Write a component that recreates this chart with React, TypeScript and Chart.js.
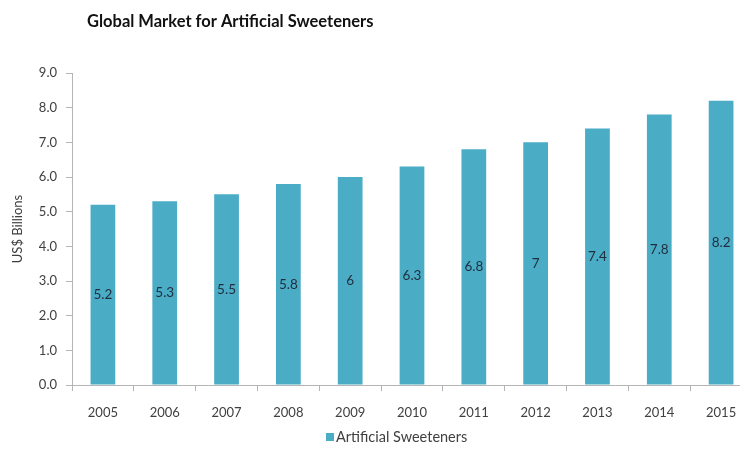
import React, { useEffect, useRef } from "react";
import { Chart, registerables } from "chart.js";

Chart.register(...registerables);

const categories = ["2005", "2006", "2007", "2008", "2009", "2010", "2011", "2012", "2013", "2014", "2015"];
const values = [5.2, 5.3, 5.5, 5.8, 6, 6.3, 6.8, 7, 7.4, 7.8, 8.2];
const valueLabels = ["5.2", "5.3", "5.5", "5.8", "6", "6.3", "6.8", "7", "7.4", "7.8", "8.2"];
const seriesName = "Artificial Sweeteners";
const chartTitle = "Global Market for Artificial Sweeteners";
const yAxisTitle = "US$ Billions";

const FONT = "Lato, 'Open Sans', sans-serif";
const BAR = "#4bacc6";
const TEXT = "#404040";
const AXIS = "#b5b5b5";

const extras = {
  id: "extras",
  afterDatasetsDraw(chart: any) {
    const ctx = chart.ctx;
    const meta = chart.getDatasetMeta(0);
    ctx.save();
    ctx.font = `13.5px ${FONT}`;
    ctx.fillStyle = "#1f2d3d";
    ctx.textAlign = "center";
    ctx.textBaseline = "middle";
    meta.data.forEach((bar: any, i: number) => {
      const mid = (bar.y + bar.base) / 2;
      ctx.fillText(valueLabels[i], bar.x, mid);
    });
    ctx.restore();
  },
  afterDraw(chart: any) {
    const ctx = chart.ctx;
    ctx.save();
    // title
    ctx.font = `bold 16.5px ${FONT}`;
    ctx.fillStyle = "#111111";
    ctx.textAlign = "left";
    ctx.textBaseline = "alphabetic";
    ctx.fillText(chartTitle, 87, 27);
    // legend
    ctx.fillStyle = BAR;
    ctx.fillRect(326, 433, 8, 8);
    ctx.font = `14.5px ${FONT}`;
    ctx.fillStyle = TEXT;
    ctx.textBaseline = "middle";
    ctx.fillText(seriesName, 336, 437);
    ctx.restore();
  },
};

export default function App() {
  const ref = useRef<HTMLCanvasElement | null>(null);
  useEffect(() => {
    if (!ref.current) return;
    const chart = new Chart(ref.current, {
      type: "bar",
      data: {
        labels: categories,
        datasets: [
          {
            label: seriesName,
            data: values,
            backgroundColor: BAR,
            borderWidth: 0,
            barPercentage: 0.4,
            categoryPercentage: 1,
          },
        ],
      },
      options: {
        responsive: false,
        animation: false,
        devicePixelRatio: 1,
        layout: { padding: { top: 73, right: 8, left: 0, bottom: 0 } },
        plugins: {
          legend: { display: false },
          title: { display: false },
          tooltip: { enabled: false },
        },
        scales: {
          x: {
            offset: true,
            grid: {
              offset: true,
              drawOnChartArea: false,
              drawTicks: true,
              tickLength: 6,
              color: AXIS,
            },
            border: { display: true, color: AXIS, width: 1 },
            ticks: {
              color: TEXT,
              font: { family: FONT, size: 13 },
              padding: 14,
              maxRotation: 0,
              autoSkip: false,
            },
            afterFit(scale: any) {
              scale.height = 454 - 385;
            },
          },
          y: {
            min: 0,
            max: 9,
            ticks: {
              stepSize: 1,
              color: TEXT,
              font: { family: FONT, size: 13 },
              padding: 9,
              callback: (v: any) => Number(v).toFixed(1),
            },
            grid: {
              drawOnChartArea: false,
              drawTicks: true,
              tickLength: 6,
              color: AXIS,
            },
            border: { display: true, color: AXIS, width: 1 },
            title: {
              display: true,
              text: yAxisTitle,
              color: TEXT,
              font: { family: FONT, size: 13 },
              padding: { top: 10, bottom: 0 },
            },
            afterFit(scale: any) {
              scale.width = 72;
            },
          },
        },
      },
      plugins: [extras],
    });
    return () => chart.destroy();
  }, []);

  return (
    <div
      style={{
        position: "fixed",
        left: 0,
        top: 0,
        width: 740,
        height: 454,
        overflow: "hidden",
        background: "#ffffff",
      }}
    >
      <canvas ref={ref} width={760} height={454} style={{ display: "block" }} />
    </div>
  );
}
